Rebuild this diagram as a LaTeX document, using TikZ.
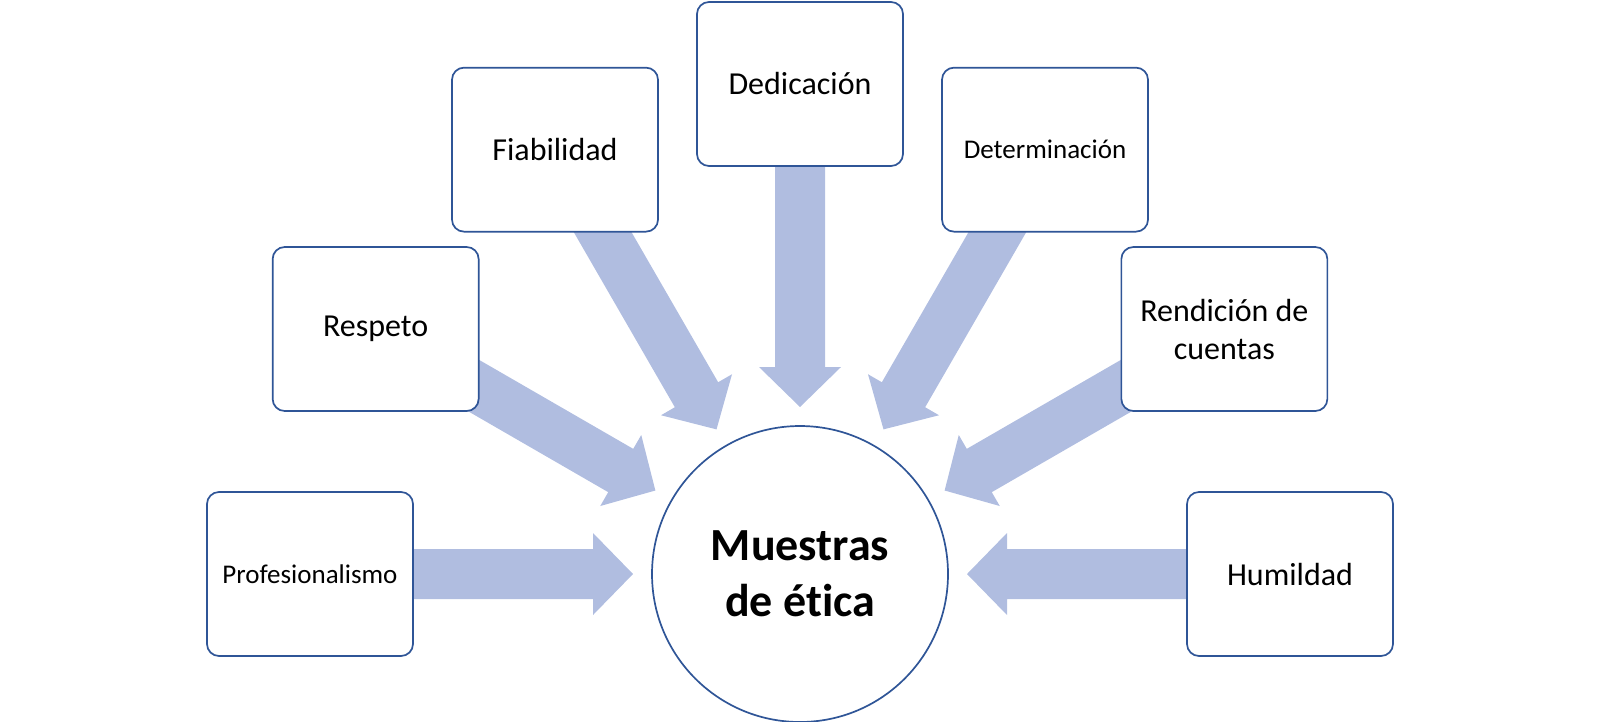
\documentclass[tikz,border=0pt]{standalone}
\usepackage{fontspec}
\setmainfont{Carlito}[Ligatures=NoCommon]
\usetikzlibrary{calc}
\definecolor{edgeblue}{HTML}{2F5597}
\definecolor{arrowfill}{HTML}{B0BDE0}
\tikzset{
  valuebox/.style={draw=edgeblue, line width=1.7pt, fill=white, rounded corners=12pt,
    minimum width=206pt, minimum height=164pt, align=center, inner sep=2pt,
    font=\fontsize{32}{38}\selectfont},
  smalltext/.style={font=\fontsize{27}{32}\selectfont},
  hub/.style={draw=edgeblue, line width=1.7pt, fill=white, circle, minimum size=296pt,
    align=center, inner sep=0pt, font=\bfseries\fontsize{46}{56}\selectfont},
  blockarrow/.style={fill=arrowfill, draw=none}
}
\begin{document}
\begin{tikzpicture}[x=1pt,y=1pt]
\useasboundingbox (0,0) rectangle (1600,-721);
\coordinate (ctr) at (800,-574);
% block arrows (drawn first, boxes cover their tails)
\foreach \ang in {180,150,120,90,60,30,0}{
  \begin{scope}[shift={(ctr)}, rotate=\ang]
    \fill[blockarrow] (440,25) -- (207,25) -- (207,41) -- (167,0) -- (207,-41) -- (207,-25) -- (440,-25) -- cycle;
  \end{scope}
}
\node[hub] (c) at (ctr) {Muestras\\de ética};
\node[valuebox, smalltext] (prof) at ($(ctr)+(180:490)$) {Profesionalismo};
\node[valuebox] (resp) at ($(ctr)+(150:490)$) {Respeto};
\node[valuebox] (fiab) at ($(ctr)+(120:490)$) {Fiabilidad};
\node[valuebox] (dedi) at ($(ctr)+(90:490)$) {Dedicación};
\node[valuebox, smalltext] (dete) at ($(ctr)+(60:490)$) {Determinación};
\node[valuebox] (rend) at ($(ctr)+(30:490)$) {Rendición de\\cuentas};
\node[valuebox] (humi) at ($(ctr)+(0:490)$) {Humildad};
\end{tikzpicture}
\end{document}
